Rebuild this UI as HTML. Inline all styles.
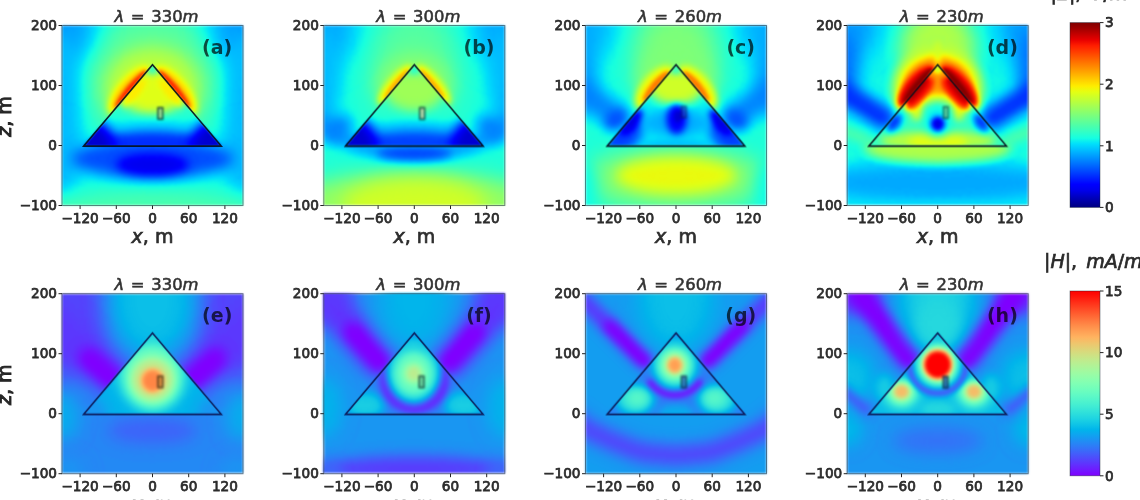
<!DOCTYPE html><html><head><meta charset="utf-8"><title>Figure</title><style>html,body{margin:0;padding:0;background:#fff}svg{display:block}text{font-family:"DejaVu Sans","Liberation Sans",sans-serif;fill:#1c1c1c}.tk{font-size:13.6px;fill:#2c2c2c;stroke:#2c2c2c;stroke-width:.75px}.tt{font-size:16.4px;word-spacing:1.5px;fill:#333;stroke:#333;stroke-width:.55px}.it{font-style:oblique}.xl{font-size:19px;fill:#2e2e2e;stroke:#2e2e2e;stroke-width:.7px}.yl{font-size:19px;fill:#262626;stroke:#262626;stroke-width:.9px}.pl{font-size:19px;font-weight:bold;fill:#000;opacity:.7}.ct{font-size:19px;word-spacing:3px;fill:#2a2a2a;stroke:#2a2a2a;stroke-width:.7px}.txt{filter:blur(.7px)}</style></head><body><svg width="1140" height="500" viewBox="0 0 1140 500"><defs><filter id="jet" color-interpolation-filters="sRGB" filterUnits="userSpaceOnUse" x="-150" y="-200" width="300" height="300"><feComponentTransfer><feFuncR type="table" tableValues="0 0 0 0 0 0 0 0 0 0 0 0 0.0854 0.187 0.288 0.389 0.49 0.591 0.693 0.794 0.895 0.996 1 1 1 1 1 1 1 0.91 0.767 0.625 0.5"/><feFuncG type="table" tableValues="0 0 0 0 0.00196 0.127 0.253 0.378 0.504 0.629 0.755 0.88 1 1 1 1 1 1 1 1 1 0.93 0.814 0.698 0.582 0.466 0.349 0.233 0.117 0.000726 0 0 0"/><feFuncB type="table" tableValues="0.5 0.643 0.785 0.928 1 1 1 1 1 1 1 0.984 0.882 0.781 0.68 0.579 0.478 0.376 0.275 0.174 0.0727 0 0 0 0 0 0 0 0 0 0 0 0"/></feComponentTransfer></filter><filter id="rainbow" color-interpolation-filters="sRGB" filterUnits="userSpaceOnUse" x="-150" y="-200" width="300" height="300"><feComponentTransfer><feFuncR type="table" tableValues="0.5 0.437 0.375 0.312 0.249 0.186 0.124 0.0608 0.00196 0.0647 0.127 0.19 0.253 0.316 0.378 0.441 0.504 0.567 0.629 0.692 0.755 0.818 0.88 0.943 1 1 1 1 1 1 1 1 1"/><feFuncG type="table" tableValues="0 0.0984 0.196 0.291 0.384 0.473 0.557 0.636 0.709 0.775 0.834 0.884 0.926 0.958 0.982 0.996 1 0.995 0.979 0.955 0.921 0.878 0.827 0.767 0.701 0.627 0.547 0.462 0.373 0.28 0.184 0.0861 1.22e-16"/><feFuncB type="table" tableValues="1 0.999 0.995 0.989 0.981 0.97 0.957 0.941 0.923 0.903 0.881 0.857 0.83 0.802 0.771 0.739 0.705 0.669 0.632 0.593 0.552 0.511 0.468 0.424 0.378 0.332 0.285 0.238 0.19 0.141 0.0923 0.0431 6.12e-17"/></feComponentTransfer></filter><filter id="b1_0" color-interpolation-filters="sRGB" x="-150%" y="-150%" width="400%" height="400%"><feGaussianBlur stdDeviation="1"/></filter><filter id="b2_5" color-interpolation-filters="sRGB" x="-150%" y="-150%" width="400%" height="400%"><feGaussianBlur stdDeviation="2.5"/></filter><filter id="b3_0" color-interpolation-filters="sRGB" x="-150%" y="-150%" width="400%" height="400%"><feGaussianBlur stdDeviation="3"/></filter><filter id="b3_5" color-interpolation-filters="sRGB" x="-150%" y="-150%" width="400%" height="400%"><feGaussianBlur stdDeviation="3.5"/></filter><filter id="b4_0" color-interpolation-filters="sRGB" x="-150%" y="-150%" width="400%" height="400%"><feGaussianBlur stdDeviation="4"/></filter><filter id="b5_0" color-interpolation-filters="sRGB" x="-150%" y="-150%" width="400%" height="400%"><feGaussianBlur stdDeviation="5"/></filter><filter id="b6_0" color-interpolation-filters="sRGB" x="-150%" y="-150%" width="400%" height="400%"><feGaussianBlur stdDeviation="6"/></filter><filter id="b7_0" color-interpolation-filters="sRGB" x="-150%" y="-150%" width="400%" height="400%"><feGaussianBlur stdDeviation="7"/></filter><filter id="b8_0" color-interpolation-filters="sRGB" x="-150%" y="-150%" width="400%" height="400%"><feGaussianBlur stdDeviation="8"/></filter><filter id="b9_0" color-interpolation-filters="sRGB" x="-150%" y="-150%" width="400%" height="400%"><feGaussianBlur stdDeviation="9"/></filter><filter id="b10_0" color-interpolation-filters="sRGB" x="-150%" y="-150%" width="400%" height="400%"><feGaussianBlur stdDeviation="10"/></filter><filter id="b11_0" color-interpolation-filters="sRGB" x="-150%" y="-150%" width="400%" height="400%"><feGaussianBlur stdDeviation="11"/></filter><filter id="b12_0" color-interpolation-filters="sRGB" x="-150%" y="-150%" width="400%" height="400%"><feGaussianBlur stdDeviation="12"/></filter><filter id="b13_0" color-interpolation-filters="sRGB" x="-150%" y="-150%" width="400%" height="400%"><feGaussianBlur stdDeviation="13"/></filter><filter id="b14_0" color-interpolation-filters="sRGB" x="-150%" y="-150%" width="400%" height="400%"><feGaussianBlur stdDeviation="14"/></filter><filter id="b15_0" color-interpolation-filters="sRGB" x="-150%" y="-150%" width="400%" height="400%"><feGaussianBlur stdDeviation="15"/></filter><filter id="b16_0" color-interpolation-filters="sRGB" x="-150%" y="-150%" width="400%" height="400%"><feGaussianBlur stdDeviation="16"/></filter><filter id="b18_0" color-interpolation-filters="sRGB" x="-150%" y="-150%" width="400%" height="400%"><feGaussianBlur stdDeviation="18"/></filter><filter id="b20_0" color-interpolation-filters="sRGB" x="-150%" y="-150%" width="400%" height="400%"><feGaussianBlur stdDeviation="20"/></filter><filter id="b22_0" color-interpolation-filters="sRGB" x="-150%" y="-150%" width="400%" height="400%"><feGaussianBlur stdDeviation="22"/></filter><filter id="soft" color-interpolation-filters="sRGB" filterUnits="userSpaceOnUse" x="0" y="0" width="1140" height="500"><feGaussianBlur stdDeviation=".8"/></filter><filter id="soft2" color-interpolation-filters="sRGB" filterUnits="userSpaceOnUse" x="0" y="0" width="1140" height="500"><feGaussianBlur stdDeviation=".55"/></filter><clipPath id="tin"><polygon points="-114,1 0,-134.5 114,1"/></clipPath><clipPath id="tout"><path clip-rule="evenodd" d="M-200,-250H200V150H-200Z M-114,1 L0,-134.5 L114,1Z"/></clipPath><linearGradient id="cbjet" x1="0" y1="0" x2="0" y2="1"><stop offset="0" stop-color="#800000"/><stop offset="0.03125" stop-color="#9f0000"/><stop offset="0.0625" stop-color="#c40000"/><stop offset="0.09375" stop-color="#e80000"/><stop offset="0.125" stop-color="#ff1e00"/><stop offset="0.1562" stop-color="#ff3b00"/><stop offset="0.1875" stop-color="#ff5900"/><stop offset="0.2188" stop-color="#ff7700"/><stop offset="0.25" stop-color="#ff9400"/><stop offset="0.2812" stop-color="#ffb200"/><stop offset="0.3125" stop-color="#ffd000"/><stop offset="0.3438" stop-color="#feed00"/><stop offset="0.375" stop-color="#e4ff13"/><stop offset="0.4062" stop-color="#caff2c"/><stop offset="0.4375" stop-color="#b1ff46"/><stop offset="0.4688" stop-color="#97ff60"/><stop offset="0.5" stop-color="#7dff7a"/><stop offset="0.5312" stop-color="#63ff94"/><stop offset="0.5625" stop-color="#49ffad"/><stop offset="0.5938" stop-color="#30ffc7"/><stop offset="0.625" stop-color="#16ffe1"/><stop offset="0.6562" stop-color="#00e0fb"/><stop offset="0.6875" stop-color="#00c0ff"/><stop offset="0.7188" stop-color="#00a0ff"/><stop offset="0.75" stop-color="#0080ff"/><stop offset="0.7812" stop-color="#0060ff"/><stop offset="0.8125" stop-color="#0040ff"/><stop offset="0.8438" stop-color="#0020ff"/><stop offset="0.875" stop-color="#0000ff"/><stop offset="0.9062" stop-color="#0000ed"/><stop offset="0.9375" stop-color="#0000c8"/><stop offset="0.9688" stop-color="#0000a4"/><stop offset="1" stop-color="#000080"/></linearGradient><linearGradient id="cbrainbow" x1="0" y1="0" x2="0" y2="1"><stop offset="0" stop-color="#ff0000"/><stop offset="0.03125" stop-color="#ff160b"/><stop offset="0.0625" stop-color="#ff2f18"/><stop offset="0.09375" stop-color="#ff4724"/><stop offset="0.125" stop-color="#ff5f30"/><stop offset="0.1562" stop-color="#ff763d"/><stop offset="0.1875" stop-color="#ff8c49"/><stop offset="0.2188" stop-color="#ffa055"/><stop offset="0.25" stop-color="#ffb360"/><stop offset="0.2812" stop-color="#f0c46c"/><stop offset="0.3125" stop-color="#e0d377"/><stop offset="0.3438" stop-color="#d0e082"/><stop offset="0.375" stop-color="#c0eb8d"/><stop offset="0.4062" stop-color="#b0f397"/><stop offset="0.4375" stop-color="#a0faa1"/><stop offset="0.4688" stop-color="#90feab"/><stop offset="0.5" stop-color="#80ffb4"/><stop offset="0.5312" stop-color="#70febc"/><stop offset="0.5625" stop-color="#60fac5"/><stop offset="0.5938" stop-color="#50f4cc"/><stop offset="0.625" stop-color="#40ecd4"/><stop offset="0.6562" stop-color="#30e1da"/><stop offset="0.6875" stop-color="#20d5e1"/><stop offset="0.7188" stop-color="#10c6e6"/><stop offset="0.75" stop-color="#00b5eb"/><stop offset="0.7812" stop-color="#10a2f0"/><stop offset="0.8125" stop-color="#208ef4"/><stop offset="0.8438" stop-color="#3079f7"/><stop offset="0.875" stop-color="#4062fa"/><stop offset="0.9062" stop-color="#504afc"/><stop offset="0.9375" stop-color="#6032fe"/><stop offset="0.9688" stop-color="#7019ff"/><stop offset="1" stop-color="#8000ff"/></linearGradient></defs><rect width="1140" height="500" fill="#fff"/><g filter="url(#soft)"><svg x="62" y="25.5" width="181" height="180" viewBox="-150 -200 300 300" preserveAspectRatio="none"><g filter="url(#jet)"><rect x="-150" y="-200" width="300" height="300" fill="#616161"/><ellipse cx="0" cy="-110" rx="115" ry="105" fill="#787878" filter="url(#b22_0)"/><ellipse cx="0" cy="-98" rx="78" ry="66" fill="#919191" filter="url(#b12_0)"/><ellipse cx="-155" cy="-200" rx="60" ry="70" fill="#474747" filter="url(#b22_0)"/><ellipse cx="155" cy="-200" rx="60" ry="70" fill="#474747" filter="url(#b22_0)"/><ellipse cx="-155" cy="-80" rx="36" ry="110" fill="#4f4f4f" filter="url(#b14_0)"/><ellipse cx="155" cy="-80" rx="36" ry="110" fill="#4f4f4f" filter="url(#b14_0)"/><ellipse cx="-155" cy="20" rx="40" ry="60" fill="#4f4f4f" filter="url(#b14_0)"/><ellipse cx="155" cy="20" rx="40" ry="60" fill="#4f4f4f" filter="url(#b14_0)"/><g clip-path="url(#tout)"><ellipse cx="-38" cy="-92" rx="50" ry="19" fill="#b2b2b2" transform="rotate(-49.9 -38 -92)" filter="url(#b6_0)"/></g><g clip-path="url(#tout)"><ellipse cx="38" cy="-92" rx="50" ry="19" fill="#b2b2b2" transform="rotate(49.9 38 -92)" filter="url(#b6_0)"/></g><g clip-path="url(#tout)"><ellipse cx="-35" cy="-94" rx="40" ry="8" fill="#dedede" transform="rotate(-49.9 -35 -94)" filter="url(#b3_0)"/></g><g clip-path="url(#tout)"><ellipse cx="35" cy="-94" rx="40" ry="8" fill="#dedede" transform="rotate(49.9 35 -94)" filter="url(#b3_0)"/></g><ellipse cx="0" cy="120" rx="190" ry="45" fill="#707070" filter="url(#b15_0)"/><ellipse cx="0" cy="22" rx="135" ry="34" fill="#333333" filter="url(#b11_0)"/><ellipse cx="0" cy="32" rx="60" ry="18" fill="#1a1a1a" filter="url(#b8_0)"/><g clip-path="url(#tin)"><polygon points="-116,2 0,-137 116,2" fill="#666666"/></g><g clip-path="url(#tin)"><ellipse cx="0" cy="-90" rx="55" ry="38" fill="#9e9e9e" filter="url(#b9_0)"/></g><g clip-path="url(#tin)"><ellipse cx="0" cy="-32" rx="80" ry="12" fill="#575757" filter="url(#b8_0)"/></g><g clip-path="url(#tin)"><ellipse cx="-30" cy="-88" rx="8" ry="30" fill="#a8a8a8" transform="rotate(40 -30 -88)" filter="url(#b4_0)"/></g><g clip-path="url(#tin)"><ellipse cx="30" cy="-88" rx="8" ry="30" fill="#a8a8a8" transform="rotate(-40 30 -88)" filter="url(#b4_0)"/></g><g clip-path="url(#tin)"><ellipse cx="0" cy="-128" rx="8" ry="10" fill="#6b6b6b" filter="url(#b4_0)"/></g><g clip-path="url(#tin)"><ellipse cx="0" cy="2" rx="120" ry="27" fill="#2b2b2b" filter="url(#b8_0)"/></g><g clip-path="url(#tin)"><ellipse cx="-100" cy="0" rx="36" ry="44" fill="#121212" filter="url(#b10_0)"/></g><g clip-path="url(#tin)"><ellipse cx="100" cy="0" rx="36" ry="44" fill="#121212" filter="url(#b10_0)"/></g></g><rect x="9.25" y="-63" width="7.5" height="19" fill="#b0e8a0" stroke="#0a3030" stroke-width="2.8" opacity="0.85" filter="url(#b1_0)"/></svg><svg x="323.8" y="25.5" width="181" height="180" viewBox="-150 -200 300 300" preserveAspectRatio="none"><g filter="url(#jet)"><rect x="-150" y="-200" width="300" height="300" fill="#636363"/><ellipse cx="0" cy="-125" rx="75" ry="95" fill="#757575" filter="url(#b22_0)"/><ellipse cx="0" cy="-100" rx="62" ry="55" fill="#828282" filter="url(#b12_0)"/><ellipse cx="-155" cy="-200" rx="60" ry="70" fill="#4a4a4a" filter="url(#b22_0)"/><ellipse cx="155" cy="-200" rx="60" ry="70" fill="#4a4a4a" filter="url(#b22_0)"/><ellipse cx="-155" cy="-110" rx="34" ry="90" fill="#4f4f4f" filter="url(#b13_0)"/><ellipse cx="155" cy="-110" rx="34" ry="90" fill="#4f4f4f" filter="url(#b13_0)"/><g clip-path="url(#tout)"><polyline points="-180.3,-85.4 -174.3,-65.4 -162.3,-46.3 -144.8,-29 -122.3,-13.9 -95.6,-1.6 -65.6,7.5 -33.4,13.1 -0,15 33.4,13.1 65.6,7.5 95.6,-1.6 122.3,-13.9 144.8,-29 162.3,-46.3 174.3,-65.4 180.3,-85.4" fill="none" stroke="#474747" stroke-width="26" stroke-linecap="round" stroke-linejoin="round" filter="url(#b10_0)"/></g><g clip-path="url(#tout)"><ellipse cx="-128" cy="-28" rx="28" ry="20" fill="#404040" transform="rotate(-40 -128 -28)" filter="url(#b11_0)"/></g><g clip-path="url(#tout)"><ellipse cx="128" cy="-28" rx="28" ry="20" fill="#404040" transform="rotate(40 128 -28)" filter="url(#b11_0)"/></g><g clip-path="url(#tout)"><ellipse cx="-32" cy="-102" rx="42" ry="13" fill="#a1a1a1" transform="rotate(-49.9 -32 -102)" filter="url(#b4_0)"/></g><g clip-path="url(#tout)"><ellipse cx="32" cy="-102" rx="42" ry="13" fill="#a1a1a1" transform="rotate(49.9 32 -102)" filter="url(#b4_0)"/></g><g clip-path="url(#tout)"><ellipse cx="-29" cy="-103" rx="32" ry="6" fill="#bababa" transform="rotate(-49.9 -29 -103)" filter="url(#b2_5)"/></g><g clip-path="url(#tout)"><ellipse cx="29" cy="-103" rx="32" ry="6" fill="#bababa" transform="rotate(49.9 29 -103)" filter="url(#b2_5)"/></g><ellipse cx="0" cy="118" rx="230" ry="76" fill="#878787" filter="url(#b16_0)"/><ellipse cx="0" cy="100" rx="120" ry="45" fill="#999999" filter="url(#b14_0)"/><ellipse cx="0" cy="13" rx="62" ry="11" fill="#303030" filter="url(#b7_0)"/><g clip-path="url(#tin)"><polygon points="-116,2 0,-137 116,2" fill="#666666"/></g><g clip-path="url(#tin)"><ellipse cx="0" cy="-92" rx="50" ry="34" fill="#8a8a8a" filter="url(#b9_0)"/></g><g clip-path="url(#tin)"><ellipse cx="0" cy="-30" rx="80" ry="12" fill="#545454" filter="url(#b8_0)"/></g><g clip-path="url(#tin)"><ellipse cx="0" cy="-128" rx="8" ry="10" fill="#666666" filter="url(#b4_0)"/></g><g clip-path="url(#tin)"><ellipse cx="0" cy="2" rx="120" ry="27" fill="#303030" filter="url(#b8_0)"/></g><g clip-path="url(#tin)"><ellipse cx="-100" cy="-2" rx="38" ry="46" fill="#121212" filter="url(#b10_0)"/></g><g clip-path="url(#tin)"><ellipse cx="100" cy="-2" rx="38" ry="46" fill="#121212" filter="url(#b10_0)"/></g></g><rect x="9.25" y="-63" width="7.5" height="19" fill="#e8f0c0" stroke="#0a3030" stroke-width="2.8" opacity="0.85" filter="url(#b1_0)"/></svg><svg x="585.5" y="25.5" width="181" height="180" viewBox="-150 -200 300 300" preserveAspectRatio="none"><g filter="url(#jet)"><rect x="-150" y="-200" width="300" height="300" fill="#636363"/><ellipse cx="0" cy="-150" rx="70" ry="80" fill="#808080" filter="url(#b20_0)"/><ellipse cx="0" cy="-105" rx="66" ry="60" fill="#808080" filter="url(#b12_0)"/><ellipse cx="-155" cy="-200" rx="55" ry="60" fill="#4c4c4c" filter="url(#b20_0)"/><ellipse cx="155" cy="-200" rx="55" ry="60" fill="#4c4c4c" filter="url(#b20_0)"/><ellipse cx="-158" cy="-120" rx="30" ry="70" fill="#4a4a4a" filter="url(#b12_0)"/><ellipse cx="158" cy="-120" rx="30" ry="70" fill="#4a4a4a" filter="url(#b12_0)"/><g clip-path="url(#tout)"><polyline points="-98,-48 -175,-104" fill="none" stroke="#404040" stroke-width="42" stroke-linecap="round" stroke-linejoin="round" filter="url(#b12_0)"/></g><g clip-path="url(#tout)"><polyline points="98,-48 175,-104" fill="none" stroke="#404040" stroke-width="42" stroke-linecap="round" stroke-linejoin="round" filter="url(#b12_0)"/></g><g clip-path="url(#tout)"><ellipse cx="-100" cy="-44" rx="20" ry="14" fill="#333333" transform="rotate(-35 -100 -44)" filter="url(#b8_0)"/></g><g clip-path="url(#tout)"><ellipse cx="100" cy="-44" rx="20" ry="14" fill="#333333" transform="rotate(35 100 -44)" filter="url(#b8_0)"/></g><g clip-path="url(#tout)"><ellipse cx="-36" cy="-97" rx="44" ry="20" fill="#a6a6a6" transform="rotate(-49.9 -36 -97)" filter="url(#b5_0)"/></g><g clip-path="url(#tout)"><ellipse cx="36" cy="-97" rx="44" ry="20" fill="#a6a6a6" transform="rotate(49.9 36 -97)" filter="url(#b5_0)"/></g><g clip-path="url(#tout)"><ellipse cx="-32" cy="-98" rx="33" ry="10" fill="#c7c7c7" transform="rotate(-49.9 -32 -98)" filter="url(#b3_0)"/></g><g clip-path="url(#tout)"><ellipse cx="32" cy="-98" rx="33" ry="10" fill="#c7c7c7" transform="rotate(49.9 32 -98)" filter="url(#b3_0)"/></g><ellipse cx="0" cy="55" rx="160" ry="52" fill="#808080" filter="url(#b16_0)"/><ellipse cx="0" cy="50" rx="100" ry="31" fill="#a1a1a1" filter="url(#b11_0)"/><ellipse cx="-158" cy="70" rx="28" ry="50" fill="#5e5e5e" filter="url(#b12_0)"/><ellipse cx="158" cy="70" rx="28" ry="50" fill="#5e5e5e" filter="url(#b12_0)"/><g clip-path="url(#tin)"><polygon points="-116,2 0,-137 116,2" fill="#5c5c5c"/></g><g clip-path="url(#tin)"><ellipse cx="0" cy="-98" rx="46" ry="30" fill="#999999" filter="url(#b8_0)"/></g><g clip-path="url(#tin)"><ellipse cx="0" cy="-128" rx="8" ry="10" fill="#6b6b6b" filter="url(#b4_0)"/></g><g clip-path="url(#tin)"><ellipse cx="-88" cy="-22" rx="30" ry="40" fill="#303030" transform="rotate(36 -88 -22)" filter="url(#b9_0)"/></g><g clip-path="url(#tin)"><ellipse cx="88" cy="-22" rx="30" ry="40" fill="#303030" transform="rotate(-36 88 -22)" filter="url(#b9_0)"/></g><g clip-path="url(#tin)"><ellipse cx="-74" cy="-38" rx="10" ry="26" fill="#141414" transform="rotate(40 -74 -38)" filter="url(#b5_0)"/></g><g clip-path="url(#tin)"><ellipse cx="74" cy="-38" rx="10" ry="26" fill="#141414" transform="rotate(-40 74 -38)" filter="url(#b5_0)"/></g><g clip-path="url(#tin)"><ellipse cx="0" cy="0" rx="60" ry="9" fill="#4f4f4f" filter="url(#b6_0)"/></g><g clip-path="url(#tin)"><ellipse cx="0" cy="-38" rx="56" ry="22" fill="#4c4c4c" filter="url(#b8_0)"/></g><g clip-path="url(#tin)"><ellipse cx="1" cy="-44" rx="17" ry="25" fill="#1f1f1f" filter="url(#b5_0)"/></g><g clip-path="url(#tin)"><ellipse cx="3" cy="-48" rx="7" ry="11" fill="#121212" filter="url(#b3_0)"/></g></g><rect x="9.25" y="-65.5" width="7.5" height="19" fill="#2050c0" stroke="#0a2040" stroke-width="2.8" opacity="0.55" filter="url(#b1_0)"/></svg><svg x="847.2" y="25.5" width="181" height="180" viewBox="-150 -200 300 300" preserveAspectRatio="none"><g filter="url(#jet)"><rect x="-150" y="-200" width="300" height="300" fill="#5e5e5e"/><ellipse cx="-155" cy="-200" rx="55" ry="60" fill="#474747" filter="url(#b18_0)"/><ellipse cx="155" cy="-200" rx="55" ry="60" fill="#474747" filter="url(#b18_0)"/><ellipse cx="-160" cy="-130" rx="30" ry="60" fill="#3d3d3d" filter="url(#b12_0)"/><ellipse cx="160" cy="-130" rx="30" ry="60" fill="#3d3d3d" filter="url(#b12_0)"/><ellipse cx="0" cy="62" rx="210" ry="32" fill="#4a4a4a" filter="url(#b12_0)"/><ellipse cx="0" cy="112" rx="210" ry="14" fill="#595959" filter="url(#b8_0)"/><ellipse cx="-150" cy="5" rx="30" ry="18" fill="#616161" filter="url(#b10_0)"/><ellipse cx="150" cy="5" rx="30" ry="18" fill="#616161" filter="url(#b10_0)"/><g clip-path="url(#tout)"><ellipse cx="0" cy="5" rx="122" ry="24" fill="#8f8f8f" filter="url(#b8_0)"/></g><g clip-path="url(#tout)"><polyline points="-90,-46 -175,-100" fill="none" stroke="#2b2b2b" stroke-width="36" stroke-linecap="round" stroke-linejoin="round" filter="url(#b10_0)"/></g><g clip-path="url(#tout)"><polyline points="90,-46 175,-100" fill="none" stroke="#2b2b2b" stroke-width="36" stroke-linecap="round" stroke-linejoin="round" filter="url(#b10_0)"/></g><g clip-path="url(#tout)"><polyline points="-118,-10 -170,-30" fill="none" stroke="#737373" stroke-width="18" stroke-linecap="round" stroke-linejoin="round" filter="url(#b8_0)"/></g><g clip-path="url(#tout)"><polyline points="118,-10 170,-30" fill="none" stroke="#737373" stroke-width="18" stroke-linecap="round" stroke-linejoin="round" filter="url(#b8_0)"/></g><g clip-path="url(#tout)"><ellipse cx="0" cy="-160" rx="62" ry="70" fill="#8f8f8f" filter="url(#b16_0)"/></g><g clip-path="url(#tout)"><ellipse cx="0" cy="-95" rx="76" ry="68" fill="#999999" filter="url(#b8_0)"/></g><g clip-path="url(#tout)"><ellipse cx="0" cy="-95" rx="60" ry="54" fill="#bfbfbf" filter="url(#b6_0)"/></g><g clip-path="url(#tout)"><ellipse cx="-36" cy="-98" rx="44" ry="18" fill="#ebebeb" transform="rotate(-49.9 -36 -98)" filter="url(#b4_0)"/></g><g clip-path="url(#tout)"><ellipse cx="36" cy="-98" rx="44" ry="18" fill="#ebebeb" transform="rotate(49.9 36 -98)" filter="url(#b4_0)"/></g><g clip-path="url(#tout)"><ellipse cx="-32" cy="-100" rx="38" ry="8" fill="#ffffff" transform="rotate(-49.9 -32 -100)" filter="url(#b3_0)"/></g><g clip-path="url(#tout)"><ellipse cx="32" cy="-100" rx="38" ry="8" fill="#ffffff" transform="rotate(49.9 32 -100)" filter="url(#b3_0)"/></g><g clip-path="url(#tout)"><ellipse cx="0" cy="-156" rx="5" ry="20" fill="#999999" filter="url(#b4_0)"/></g><g clip-path="url(#tin)"><polygon points="-116,2 0,-137 116,2" fill="#6b6b6b"/></g><g clip-path="url(#tin)"><ellipse cx="0" cy="-8" rx="95" ry="16" fill="#919191" filter="url(#b6_0)"/></g><g clip-path="url(#tin)"><ellipse cx="0" cy="-6" rx="50" ry="10" fill="#a1a1a1" filter="url(#b5_0)"/></g><g clip-path="url(#tin)"><ellipse cx="0" cy="-100" rx="52" ry="36" fill="#9e9e9e" filter="url(#b6_0)"/></g><g clip-path="url(#tin)"><ellipse cx="-34" cy="-62" rx="12" ry="20" fill="#9e9e9e" filter="url(#b5_0)"/></g><g clip-path="url(#tin)"><ellipse cx="34" cy="-62" rx="12" ry="20" fill="#9e9e9e" filter="url(#b5_0)"/></g><g clip-path="url(#tin)"><ellipse cx="0" cy="-108" rx="36" ry="24" fill="#bdbdbd" filter="url(#b5_0)"/></g><g clip-path="url(#tin)"><ellipse cx="-30" cy="-86" rx="12" ry="34" fill="#e6e6e6" transform="rotate(40 -30 -86)" filter="url(#b4_0)"/></g><g clip-path="url(#tin)"><ellipse cx="30" cy="-86" rx="12" ry="34" fill="#e6e6e6" transform="rotate(-40 30 -86)" filter="url(#b4_0)"/></g><g clip-path="url(#tin)"><ellipse cx="-34" cy="-92" rx="5" ry="30" fill="#f7f7f7" transform="rotate(40 -34 -92)" filter="url(#b2_5)"/></g><g clip-path="url(#tin)"><ellipse cx="34" cy="-92" rx="5" ry="30" fill="#f7f7f7" transform="rotate(-40 34 -92)" filter="url(#b2_5)"/></g><g clip-path="url(#tin)"><ellipse cx="0" cy="-128" rx="7" ry="8" fill="#999999" filter="url(#b3_0)"/></g><g clip-path="url(#tin)"><ellipse cx="0" cy="-44" rx="24" ry="30" fill="#5e5e5e" filter="url(#b7_0)"/></g><g clip-path="url(#tin)"><ellipse cx="-72" cy="-38" rx="10" ry="18" fill="#2b2b2b" transform="rotate(36 -72 -38)" filter="url(#b5_0)"/></g><g clip-path="url(#tin)"><ellipse cx="72" cy="-38" rx="10" ry="18" fill="#2b2b2b" transform="rotate(-36 72 -38)" filter="url(#b5_0)"/></g><g clip-path="url(#tin)"><ellipse cx="0" cy="-36" rx="11" ry="12" fill="#141414" filter="url(#b4_0)"/></g></g><rect x="9.65" y="-64.5" width="7.5" height="19" fill="#80c890" stroke="#0a4030" stroke-width="2.8" opacity="0.7" filter="url(#b1_0)"/></svg><svg x="62" y="293.7" width="181" height="180" viewBox="-150 -200 300 300" preserveAspectRatio="none"><g filter="url(#rainbow)"><rect x="-150" y="-200" width="300" height="300" fill="#2e2e2e"/><ellipse cx="-150" cy="-175" rx="80" ry="115" fill="#171717" filter="url(#b22_0)"/><ellipse cx="150" cy="-175" rx="80" ry="115" fill="#171717" filter="url(#b22_0)"/><ellipse cx="0" cy="-190" rx="72" ry="95" fill="#454545" filter="url(#b20_0)"/><g clip-path="url(#tout)"><polyline points="-66,-62 -175,-158" fill="none" stroke="#121212" stroke-width="60" stroke-linecap="round" stroke-linejoin="round" filter="url(#b16_0)"/></g><g clip-path="url(#tout)"><polyline points="66,-62 175,-158" fill="none" stroke="#121212" stroke-width="60" stroke-linecap="round" stroke-linejoin="round" filter="url(#b16_0)"/></g><g clip-path="url(#tout)"><polyline points="-66,-58 -104,-92" fill="none" stroke="#000000" stroke-width="38" stroke-linecap="round" stroke-linejoin="round" filter="url(#b10_0)"/></g><g clip-path="url(#tout)"><polyline points="66,-58 104,-92" fill="none" stroke="#000000" stroke-width="38" stroke-linecap="round" stroke-linejoin="round" filter="url(#b10_0)"/></g><ellipse cx="-150" cy="5" rx="28" ry="40" fill="#3d3d3d" filter="url(#b14_0)"/><ellipse cx="150" cy="5" rx="28" ry="40" fill="#3d3d3d" filter="url(#b14_0)"/><ellipse cx="0" cy="28" rx="75" ry="22" fill="#212121" filter="url(#b12_0)"/><ellipse cx="-150" cy="100" rx="40" ry="30" fill="#333333" filter="url(#b14_0)"/><ellipse cx="150" cy="100" rx="40" ry="30" fill="#333333" filter="url(#b14_0)"/><g clip-path="url(#tin)"><polygon points="-116,2 0,-137 116,2" fill="#404040"/></g><g clip-path="url(#tin)"><ellipse cx="-105" cy="0" rx="30" ry="30" fill="#333333" filter="url(#b10_0)"/></g><g clip-path="url(#tin)"><ellipse cx="105" cy="0" rx="30" ry="30" fill="#333333" filter="url(#b10_0)"/></g><g clip-path="url(#tin)"><ellipse cx="0" cy="-72" rx="62" ry="72" fill="#545454" filter="url(#b10_0)"/></g><g clip-path="url(#tin)"><ellipse cx="0" cy="-61" rx="48" ry="52" fill="#787878" filter="url(#b7_0)"/></g><g clip-path="url(#tin)"><ellipse cx="0" cy="-57" rx="35" ry="36" fill="#a1a1a1" filter="url(#b6_0)"/></g><g clip-path="url(#tin)"><ellipse cx="0" cy="-55" rx="19" ry="20" fill="#d1d1d1" filter="url(#b4_0)"/></g></g><rect x="9.25" y="-62.5" width="7.5" height="19" fill="#e09040" stroke="#2a2a10" stroke-width="2.8" opacity="0.8" filter="url(#b1_0)"/></svg><svg x="323.8" y="293.7" width="181" height="180" viewBox="-150 -200 300 300" preserveAspectRatio="none"><g filter="url(#rainbow)"><rect x="-150" y="-200" width="300" height="300" fill="#333333"/><ellipse cx="-150" cy="-10" rx="30" ry="50" fill="#404040" filter="url(#b14_0)"/><ellipse cx="150" cy="-10" rx="30" ry="50" fill="#404040" filter="url(#b14_0)"/><ellipse cx="0" cy="92" rx="150" ry="22" fill="#141414" filter="url(#b11_0)"/><ellipse cx="-150" cy="98" rx="30" ry="20" fill="#212121" filter="url(#b10_0)"/><ellipse cx="150" cy="98" rx="30" ry="20" fill="#212121" filter="url(#b10_0)"/><ellipse cx="-150" cy="-200" rx="50" ry="50" fill="#1a1a1a" filter="url(#b14_0)"/><ellipse cx="150" cy="-200" rx="50" ry="50" fill="#1a1a1a" filter="url(#b14_0)"/><g clip-path="url(#tout)"><polyline points="-58,-88 -155,-200" fill="none" stroke="#121212" stroke-width="56" stroke-linecap="round" stroke-linejoin="round" filter="url(#b14_0)"/></g><g clip-path="url(#tout)"><polyline points="58,-88 155,-200" fill="none" stroke="#121212" stroke-width="56" stroke-linecap="round" stroke-linejoin="round" filter="url(#b14_0)"/></g><g clip-path="url(#tout)"><polyline points="-58,-86 -102,-136" fill="none" stroke="#000000" stroke-width="34" stroke-linecap="round" stroke-linejoin="round" filter="url(#b9_0)"/></g><g clip-path="url(#tout)"><polyline points="58,-86 102,-136" fill="none" stroke="#000000" stroke-width="34" stroke-linecap="round" stroke-linejoin="round" filter="url(#b9_0)"/></g><g clip-path="url(#tout)"><ellipse cx="0" cy="-190" rx="60" ry="80" fill="#404040" filter="url(#b18_0)"/></g><g clip-path="url(#tin)"><polygon points="-116,2 0,-137 116,2" fill="#2e2e2e"/></g><g clip-path="url(#tin)"><ellipse cx="-82" cy="-14" rx="32" ry="22" fill="#4c4c4c" filter="url(#b7_0)"/></g><g clip-path="url(#tin)"><ellipse cx="82" cy="-14" rx="32" ry="22" fill="#4c4c4c" filter="url(#b7_0)"/></g><g clip-path="url(#tin)"><ellipse cx="0" cy="-58" rx="58" ry="58" fill="#0a0a0a" filter="url(#b6_0)"/></g><g clip-path="url(#tin)"><ellipse cx="-1" cy="-72" rx="46" ry="56" fill="#4f4f4f" filter="url(#b6_0)"/></g><g clip-path="url(#tin)"><ellipse cx="-1" cy="-67" rx="32" ry="36" fill="#757575" filter="url(#b6_0)"/></g><g clip-path="url(#tin)"><ellipse cx="-1" cy="-67" rx="15" ry="16" fill="#9e9e9e" filter="url(#b5_0)"/></g></g><rect x="8.25" y="-62.5" width="7.5" height="19" fill="#70d8a0" stroke="#0a3030" stroke-width="2.8" opacity="0.8" filter="url(#b1_0)"/></svg><svg x="585.5" y="293.7" width="181" height="180" viewBox="-150 -200 300 300" preserveAspectRatio="none"><g filter="url(#rainbow)"><rect x="-150" y="-200" width="300" height="300" fill="#363636"/><g clip-path="url(#tout)"><polyline points="-170,8 -150,25 -105,46 -60,64 0,70 60,64 105,46 150,25 170,8" fill="none" stroke="#131313" stroke-width="32" stroke-linecap="round" stroke-linejoin="round" filter="url(#b12_0)"/></g><g clip-path="url(#tout)"><polyline points="-52,-88 -165,-200" fill="none" stroke="#121212" stroke-width="28" stroke-linecap="round" stroke-linejoin="round" filter="url(#b9_0)"/></g><g clip-path="url(#tout)"><polyline points="52,-88 165,-200" fill="none" stroke="#121212" stroke-width="28" stroke-linecap="round" stroke-linejoin="round" filter="url(#b9_0)"/></g><g clip-path="url(#tout)"><polyline points="-52,-88 -110,-146" fill="none" stroke="#000000" stroke-width="21" stroke-linecap="round" stroke-linejoin="round" filter="url(#b7_0)"/></g><g clip-path="url(#tout)"><polyline points="52,-88 110,-146" fill="none" stroke="#000000" stroke-width="21" stroke-linecap="round" stroke-linejoin="round" filter="url(#b7_0)"/></g><g clip-path="url(#tout)"><ellipse cx="0" cy="-190" rx="60" ry="80" fill="#454545" filter="url(#b18_0)"/></g><g clip-path="url(#tin)"><polygon points="-116,2 0,-137 116,2" fill="#2b2b2b"/></g><g clip-path="url(#tin)"><ellipse cx="0" cy="-2" rx="30" ry="12" fill="#3d3d3d" filter="url(#b6_0)"/></g><g clip-path="url(#tin)"><ellipse cx="-68" cy="-24" rx="31" ry="24" fill="#5c5c5c" filter="url(#b8_0)"/></g><g clip-path="url(#tin)"><ellipse cx="68" cy="-24" rx="31" ry="24" fill="#5c5c5c" filter="url(#b8_0)"/></g><g clip-path="url(#tin)"><ellipse cx="-64" cy="-26" rx="16" ry="13" fill="#6b6b6b" filter="url(#b6_0)"/></g><g clip-path="url(#tin)"><ellipse cx="64" cy="-26" rx="16" ry="13" fill="#6b6b6b" filter="url(#b6_0)"/></g><g clip-path="url(#tin)"><ellipse cx="-2" cy="-84" rx="40" ry="44" fill="#4c4c4c" filter="url(#b6_0)"/></g><g clip-path="url(#tin)"><polyline points="-43,-52.3 -39.2,-47.6 -35,-43.4 -30.2,-39.7 -25.1,-36.6 -19.6,-34.2 -13.9,-32.4 -8,-31.4 -2,-31 4,-31.4 9.9,-32.4 15.6,-34.2 21.1,-36.6 26.2,-39.7 31,-43.4 35.2,-47.6 39,-52.3" fill="none" stroke="#050505" stroke-width="11" stroke-linecap="round" stroke-linejoin="round" filter="url(#b4_0)"/></g><g clip-path="url(#tin)"><ellipse cx="-2" cy="-81" rx="28" ry="29" fill="#7a7a7a" filter="url(#b5_0)"/></g><g clip-path="url(#tin)"><ellipse cx="-2" cy="-81" rx="17" ry="18" fill="#9e9e9e" filter="url(#b4_0)"/></g><g clip-path="url(#tin)"><ellipse cx="-2" cy="-81" rx="12" ry="13" fill="#c7c7c7" filter="url(#b3_5)"/></g></g><rect x="9.25" y="-62.5" width="7.5" height="19" fill="#3a78c8" stroke="#0a2040" stroke-width="2.8" opacity="0.8" filter="url(#b1_0)"/></svg><svg x="847.2" y="293.7" width="181" height="180" viewBox="-150 -200 300 300" preserveAspectRatio="none"><g filter="url(#rainbow)"><rect x="-150" y="-200" width="300" height="300" fill="#333333"/><ellipse cx="0" cy="45" rx="75" ry="22" fill="#262626" filter="url(#b12_0)"/><ellipse cx="-150" cy="25" rx="25" ry="30" fill="#424242" filter="url(#b12_0)"/><ellipse cx="150" cy="25" rx="25" ry="30" fill="#424242" filter="url(#b12_0)"/><g clip-path="url(#tout)"><ellipse cx="-150" cy="-60" rx="45" ry="45" fill="#454545" filter="url(#b14_0)"/></g><g clip-path="url(#tout)"><ellipse cx="150" cy="-60" rx="45" ry="45" fill="#454545" filter="url(#b14_0)"/></g><g clip-path="url(#tout)"><ellipse cx="-88" cy="-42" rx="16" ry="24" fill="#4c4c4c" filter="url(#b8_0)"/></g><g clip-path="url(#tout)"><ellipse cx="88" cy="-42" rx="16" ry="24" fill="#4c4c4c" filter="url(#b8_0)"/></g><g clip-path="url(#tout)"><polyline points="-118,-6 -158,-40" fill="none" stroke="#1a1a1a" stroke-width="16" stroke-linecap="round" stroke-linejoin="round" filter="url(#b7_0)"/></g><g clip-path="url(#tout)"><polyline points="118,-6 158,-40" fill="none" stroke="#1a1a1a" stroke-width="16" stroke-linecap="round" stroke-linejoin="round" filter="url(#b7_0)"/></g><g clip-path="url(#tout)"><ellipse cx="-140" cy="-205" rx="45" ry="40" fill="#0f0f0f" filter="url(#b14_0)"/></g><g clip-path="url(#tout)"><ellipse cx="140" cy="-205" rx="45" ry="40" fill="#0f0f0f" filter="url(#b14_0)"/></g><g clip-path="url(#tout)"><polyline points="-48,-92 -128,-198" fill="none" stroke="#000000" stroke-width="40" stroke-linecap="round" stroke-linejoin="round" filter="url(#b9_0)"/></g><g clip-path="url(#tout)"><polyline points="48,-92 128,-198" fill="none" stroke="#000000" stroke-width="40" stroke-linecap="round" stroke-linejoin="round" filter="url(#b9_0)"/></g><g clip-path="url(#tout)"><ellipse cx="0" cy="-190" rx="58" ry="85" fill="#4f4f4f" filter="url(#b18_0)"/></g><g clip-path="url(#tout)"><ellipse cx="0" cy="-150" rx="34" ry="40" fill="#525252" filter="url(#b10_0)"/></g><g clip-path="url(#tin)"><polygon points="-116,2 0,-137 116,2" fill="#454545"/></g><g clip-path="url(#tin)"><ellipse cx="0" cy="-8" rx="30" ry="12" fill="#525252" filter="url(#b6_0)"/></g><g clip-path="url(#tin)"><ellipse cx="-60" cy="-32" rx="32" ry="26" fill="#5e5e5e" filter="url(#b7_0)"/></g><g clip-path="url(#tin)"><ellipse cx="60" cy="-32" rx="32" ry="26" fill="#5e5e5e" filter="url(#b7_0)"/></g><g clip-path="url(#tin)"><ellipse cx="-60" cy="-36" rx="21" ry="19" fill="#8c8c8c" filter="url(#b5_0)"/></g><g clip-path="url(#tin)"><ellipse cx="60" cy="-36" rx="21" ry="19" fill="#8c8c8c" filter="url(#b5_0)"/></g><g clip-path="url(#tin)"><ellipse cx="-60" cy="-37" rx="13" ry="12" fill="#bababa" filter="url(#b3_5)"/></g><g clip-path="url(#tin)"><ellipse cx="60" cy="-37" rx="13" ry="12" fill="#bababa" filter="url(#b3_5)"/></g><g clip-path="url(#tin)"><ellipse cx="0" cy="-84" rx="40" ry="43" fill="#525252" filter="url(#b5_0)"/></g><g clip-path="url(#tin)"><polyline points="-47,-82.6 -46.4,-73.2 -43.9,-64.2 -39.6,-55.7 -33.8,-48.4 -26.6,-42.3 -18.4,-37.7 -9.4,-34.9 -0,-34 9.4,-34.9 18.4,-37.7 26.6,-42.3 33.8,-48.4 39.6,-55.7 43.9,-64.2 46.4,-73.2 47,-82.6" fill="none" stroke="#1a1a1a" stroke-width="10" stroke-linecap="round" stroke-linejoin="round" filter="url(#b3_5)"/></g><g clip-path="url(#tin)"><ellipse cx="0" cy="-82" rx="31" ry="32" fill="#8c8c8c" filter="url(#b4_0)"/></g><g clip-path="url(#tin)"><ellipse cx="0" cy="-82" rx="25" ry="26" fill="#cccccc" filter="url(#b3_0)"/></g><g clip-path="url(#tin)"><ellipse cx="0" cy="-82" rx="20.5" ry="21" fill="#ffffff" filter="url(#b2_5)"/></g></g><rect x="9.25" y="-62" width="7.5" height="19" fill="#2a60b0" stroke="#0a2040" stroke-width="2.8" opacity="0.8" filter="url(#b1_0)"/></svg></g><g filter="url(#soft2)"><svg x="62" y="25.5" width="181" height="180" viewBox="-150 -200 300 300" preserveAspectRatio="none"><polygon points="-114,1 0,-134.5 114,1" fill="none" stroke="#06101c" stroke-width="2.7" stroke-linejoin="miter" opacity=".92"/></svg><svg x="323.8" y="25.5" width="181" height="180" viewBox="-150 -200 300 300" preserveAspectRatio="none"><polygon points="-114,1 0,-134.5 114,1" fill="none" stroke="#06101c" stroke-width="2.7" stroke-linejoin="miter" opacity=".92"/></svg><svg x="585.5" y="25.5" width="181" height="180" viewBox="-150 -200 300 300" preserveAspectRatio="none"><polygon points="-114,1 0,-134.5 114,1" fill="none" stroke="#06101c" stroke-width="2.7" stroke-linejoin="miter" opacity=".92"/></svg><svg x="847.2" y="25.5" width="181" height="180" viewBox="-150 -200 300 300" preserveAspectRatio="none"><polygon points="-114,1 0,-134.5 114,1" fill="none" stroke="#06101c" stroke-width="2.7" stroke-linejoin="miter" opacity=".92"/></svg><svg x="62" y="293.7" width="181" height="180" viewBox="-150 -200 300 300" preserveAspectRatio="none"><polygon points="-114,1 0,-134.5 114,1" fill="none" stroke="#0c1450" stroke-width="2.7" stroke-linejoin="miter" opacity=".92"/></svg><svg x="323.8" y="293.7" width="181" height="180" viewBox="-150 -200 300 300" preserveAspectRatio="none"><polygon points="-114,1 0,-134.5 114,1" fill="none" stroke="#0c1450" stroke-width="2.7" stroke-linejoin="miter" opacity=".92"/></svg><svg x="585.5" y="293.7" width="181" height="180" viewBox="-150 -200 300 300" preserveAspectRatio="none"><polygon points="-114,1 0,-134.5 114,1" fill="none" stroke="#0c1450" stroke-width="2.7" stroke-linejoin="miter" opacity=".92"/></svg><svg x="847.2" y="293.7" width="181" height="180" viewBox="-150 -200 300 300" preserveAspectRatio="none"><polygon points="-114,1 0,-134.5 114,1" fill="none" stroke="#0c1450" stroke-width="2.7" stroke-linejoin="miter" opacity=".92"/></svg></g><g class="txt"><rect x="62" y="25.5" width="181" height="180" fill="none" stroke="#102030" stroke-opacity=".55" stroke-width="1"/><path d="M62 25.5h-3.5" stroke="#222" stroke-width="1"/><text class="tk" x="57" y="30.2" text-anchor="end">200</text><path d="M62 85.5h-3.5" stroke="#222" stroke-width="1"/><text class="tk" x="57" y="90.2" text-anchor="end">100</text><path d="M62 145.5h-3.5" stroke="#222" stroke-width="1"/><text class="tk" x="57" y="150.2" text-anchor="end">0</text><path d="M62 205.5h-3.5" stroke="#222" stroke-width="1"/><text class="tk" x="57" y="210.2" text-anchor="end">−100</text><path d="M80.1 205.5v3.5" stroke="#222" stroke-width="1"/><text class="tk" x="80.1" y="222.5" text-anchor="middle">−120</text><path d="M116.3 205.5v3.5" stroke="#222" stroke-width="1"/><text class="tk" x="116.3" y="222.5" text-anchor="middle">−60</text><path d="M152.5 205.5v3.5" stroke="#222" stroke-width="1"/><text class="tk" x="152.5" y="222.5" text-anchor="middle">0</text><path d="M188.7 205.5v3.5" stroke="#222" stroke-width="1"/><text class="tk" x="188.7" y="222.5" text-anchor="middle">60</text><path d="M224.9 205.5v3.5" stroke="#222" stroke-width="1"/><text class="tk" x="224.9" y="222.5" text-anchor="middle">120</text><text class="tt" x="156.5" y="22.2" text-anchor="middle"><tspan class="it">λ</tspan> = 330<tspan class="it">m</tspan></text><text class="xl" x="152.5" y="243" text-anchor="middle"><tspan class="it">x</tspan>, m</text><text class="pl" x="217.2" y="53.7" text-anchor="middle">(a)</text><rect x="323.8" y="25.5" width="181" height="180" fill="none" stroke="#102030" stroke-opacity=".55" stroke-width="1"/><path d="M323.8 25.5h-3.5" stroke="#222" stroke-width="1"/><text class="tk" x="318.8" y="30.2" text-anchor="end">200</text><path d="M323.8 85.5h-3.5" stroke="#222" stroke-width="1"/><text class="tk" x="318.8" y="90.2" text-anchor="end">100</text><path d="M323.8 145.5h-3.5" stroke="#222" stroke-width="1"/><text class="tk" x="318.8" y="150.2" text-anchor="end">0</text><path d="M323.8 205.5h-3.5" stroke="#222" stroke-width="1"/><text class="tk" x="318.8" y="210.2" text-anchor="end">−100</text><path d="M341.9 205.5v3.5" stroke="#222" stroke-width="1"/><text class="tk" x="341.9" y="222.5" text-anchor="middle">−120</text><path d="M378.1 205.5v3.5" stroke="#222" stroke-width="1"/><text class="tk" x="378.1" y="222.5" text-anchor="middle">−60</text><path d="M414.3 205.5v3.5" stroke="#222" stroke-width="1"/><text class="tk" x="414.3" y="222.5" text-anchor="middle">0</text><path d="M450.5 205.5v3.5" stroke="#222" stroke-width="1"/><text class="tk" x="450.5" y="222.5" text-anchor="middle">60</text><path d="M486.7 205.5v3.5" stroke="#222" stroke-width="1"/><text class="tk" x="486.7" y="222.5" text-anchor="middle">120</text><text class="tt" x="418.3" y="22.2" text-anchor="middle"><tspan class="it">λ</tspan> = 300<tspan class="it">m</tspan></text><text class="xl" x="414.3" y="243" text-anchor="middle"><tspan class="it">x</tspan>, m</text><text class="pl" x="479" y="53.7" text-anchor="middle">(b)</text><rect x="585.5" y="25.5" width="181" height="180" fill="none" stroke="#102030" stroke-opacity=".55" stroke-width="1"/><path d="M585.5 25.5h-3.5" stroke="#222" stroke-width="1"/><text class="tk" x="580.5" y="30.2" text-anchor="end">200</text><path d="M585.5 85.5h-3.5" stroke="#222" stroke-width="1"/><text class="tk" x="580.5" y="90.2" text-anchor="end">100</text><path d="M585.5 145.5h-3.5" stroke="#222" stroke-width="1"/><text class="tk" x="580.5" y="150.2" text-anchor="end">0</text><path d="M585.5 205.5h-3.5" stroke="#222" stroke-width="1"/><text class="tk" x="580.5" y="210.2" text-anchor="end">−100</text><path d="M603.6 205.5v3.5" stroke="#222" stroke-width="1"/><text class="tk" x="603.6" y="222.5" text-anchor="middle">−120</text><path d="M639.8 205.5v3.5" stroke="#222" stroke-width="1"/><text class="tk" x="639.8" y="222.5" text-anchor="middle">−60</text><path d="M676 205.5v3.5" stroke="#222" stroke-width="1"/><text class="tk" x="676" y="222.5" text-anchor="middle">0</text><path d="M712.2 205.5v3.5" stroke="#222" stroke-width="1"/><text class="tk" x="712.2" y="222.5" text-anchor="middle">60</text><path d="M748.4 205.5v3.5" stroke="#222" stroke-width="1"/><text class="tk" x="748.4" y="222.5" text-anchor="middle">120</text><text class="tt" x="680" y="22.2" text-anchor="middle"><tspan class="it">λ</tspan> = 260<tspan class="it">m</tspan></text><text class="xl" x="676" y="243" text-anchor="middle"><tspan class="it">x</tspan>, m</text><text class="pl" x="740.7" y="53.7" text-anchor="middle">(c)</text><rect x="847.2" y="25.5" width="181" height="180" fill="none" stroke="#102030" stroke-opacity=".55" stroke-width="1"/><path d="M847.2 25.5h-3.5" stroke="#222" stroke-width="1"/><text class="tk" x="842.2" y="30.2" text-anchor="end">200</text><path d="M847.2 85.5h-3.5" stroke="#222" stroke-width="1"/><text class="tk" x="842.2" y="90.2" text-anchor="end">100</text><path d="M847.2 145.5h-3.5" stroke="#222" stroke-width="1"/><text class="tk" x="842.2" y="150.2" text-anchor="end">0</text><path d="M847.2 205.5h-3.5" stroke="#222" stroke-width="1"/><text class="tk" x="842.2" y="210.2" text-anchor="end">−100</text><path d="M865.3 205.5v3.5" stroke="#222" stroke-width="1"/><text class="tk" x="865.3" y="222.5" text-anchor="middle">−120</text><path d="M901.5 205.5v3.5" stroke="#222" stroke-width="1"/><text class="tk" x="901.5" y="222.5" text-anchor="middle">−60</text><path d="M937.7 205.5v3.5" stroke="#222" stroke-width="1"/><text class="tk" x="937.7" y="222.5" text-anchor="middle">0</text><path d="M973.9 205.5v3.5" stroke="#222" stroke-width="1"/><text class="tk" x="973.9" y="222.5" text-anchor="middle">60</text><path d="M1010.1 205.5v3.5" stroke="#222" stroke-width="1"/><text class="tk" x="1010.1" y="222.5" text-anchor="middle">120</text><text class="tt" x="941.7" y="22.2" text-anchor="middle"><tspan class="it">λ</tspan> = 230<tspan class="it">m</tspan></text><text class="xl" x="937.7" y="243" text-anchor="middle"><tspan class="it">x</tspan>, m</text><text class="pl" x="1002.4" y="53.7" text-anchor="middle">(d)</text><rect x="62" y="293.7" width="181" height="180" fill="none" stroke="#102030" stroke-opacity=".55" stroke-width="1"/><path d="M62 293.7h-3.5" stroke="#222" stroke-width="1"/><text class="tk" x="57" y="298.4" text-anchor="end">200</text><path d="M62 353.7h-3.5" stroke="#222" stroke-width="1"/><text class="tk" x="57" y="358.4" text-anchor="end">100</text><path d="M62 413.7h-3.5" stroke="#222" stroke-width="1"/><text class="tk" x="57" y="418.4" text-anchor="end">0</text><path d="M62 473.7h-3.5" stroke="#222" stroke-width="1"/><text class="tk" x="57" y="478.4" text-anchor="end">−100</text><path d="M80.1 473.7v3.5" stroke="#222" stroke-width="1"/><text class="tk" x="80.1" y="490.7" text-anchor="middle">−120</text><path d="M116.3 473.7v3.5" stroke="#222" stroke-width="1"/><text class="tk" x="116.3" y="490.7" text-anchor="middle">−60</text><path d="M152.5 473.7v3.5" stroke="#222" stroke-width="1"/><text class="tk" x="152.5" y="490.7" text-anchor="middle">0</text><path d="M188.7 473.7v3.5" stroke="#222" stroke-width="1"/><text class="tk" x="188.7" y="490.7" text-anchor="middle">60</text><path d="M224.9 473.7v3.5" stroke="#222" stroke-width="1"/><text class="tk" x="224.9" y="490.7" text-anchor="middle">120</text><text class="tt" x="156.5" y="290.4" text-anchor="middle"><tspan class="it">λ</tspan> = 330<tspan class="it">m</tspan></text><text class="xl" x="152.5" y="511.2" text-anchor="middle"><tspan class="it">x</tspan>, m</text><text class="pl" x="217.2" y="321.9" text-anchor="middle">(e)</text><rect x="323.8" y="293.7" width="181" height="180" fill="none" stroke="#102030" stroke-opacity=".55" stroke-width="1"/><path d="M323.8 293.7h-3.5" stroke="#222" stroke-width="1"/><text class="tk" x="318.8" y="298.4" text-anchor="end">200</text><path d="M323.8 353.7h-3.5" stroke="#222" stroke-width="1"/><text class="tk" x="318.8" y="358.4" text-anchor="end">100</text><path d="M323.8 413.7h-3.5" stroke="#222" stroke-width="1"/><text class="tk" x="318.8" y="418.4" text-anchor="end">0</text><path d="M323.8 473.7h-3.5" stroke="#222" stroke-width="1"/><text class="tk" x="318.8" y="478.4" text-anchor="end">−100</text><path d="M341.9 473.7v3.5" stroke="#222" stroke-width="1"/><text class="tk" x="341.9" y="490.7" text-anchor="middle">−120</text><path d="M378.1 473.7v3.5" stroke="#222" stroke-width="1"/><text class="tk" x="378.1" y="490.7" text-anchor="middle">−60</text><path d="M414.3 473.7v3.5" stroke="#222" stroke-width="1"/><text class="tk" x="414.3" y="490.7" text-anchor="middle">0</text><path d="M450.5 473.7v3.5" stroke="#222" stroke-width="1"/><text class="tk" x="450.5" y="490.7" text-anchor="middle">60</text><path d="M486.7 473.7v3.5" stroke="#222" stroke-width="1"/><text class="tk" x="486.7" y="490.7" text-anchor="middle">120</text><text class="tt" x="418.3" y="290.4" text-anchor="middle"><tspan class="it">λ</tspan> = 300<tspan class="it">m</tspan></text><text class="xl" x="414.3" y="511.2" text-anchor="middle"><tspan class="it">x</tspan>, m</text><text class="pl" x="479" y="321.9" text-anchor="middle">(f)</text><rect x="585.5" y="293.7" width="181" height="180" fill="none" stroke="#102030" stroke-opacity=".55" stroke-width="1"/><path d="M585.5 293.7h-3.5" stroke="#222" stroke-width="1"/><text class="tk" x="580.5" y="298.4" text-anchor="end">200</text><path d="M585.5 353.7h-3.5" stroke="#222" stroke-width="1"/><text class="tk" x="580.5" y="358.4" text-anchor="end">100</text><path d="M585.5 413.7h-3.5" stroke="#222" stroke-width="1"/><text class="tk" x="580.5" y="418.4" text-anchor="end">0</text><path d="M585.5 473.7h-3.5" stroke="#222" stroke-width="1"/><text class="tk" x="580.5" y="478.4" text-anchor="end">−100</text><path d="M603.6 473.7v3.5" stroke="#222" stroke-width="1"/><text class="tk" x="603.6" y="490.7" text-anchor="middle">−120</text><path d="M639.8 473.7v3.5" stroke="#222" stroke-width="1"/><text class="tk" x="639.8" y="490.7" text-anchor="middle">−60</text><path d="M676 473.7v3.5" stroke="#222" stroke-width="1"/><text class="tk" x="676" y="490.7" text-anchor="middle">0</text><path d="M712.2 473.7v3.5" stroke="#222" stroke-width="1"/><text class="tk" x="712.2" y="490.7" text-anchor="middle">60</text><path d="M748.4 473.7v3.5" stroke="#222" stroke-width="1"/><text class="tk" x="748.4" y="490.7" text-anchor="middle">120</text><text class="tt" x="680" y="290.4" text-anchor="middle"><tspan class="it">λ</tspan> = 260<tspan class="it">m</tspan></text><text class="xl" x="676" y="511.2" text-anchor="middle"><tspan class="it">x</tspan>, m</text><text class="pl" x="740.7" y="321.9" text-anchor="middle">(g)</text><rect x="847.2" y="293.7" width="181" height="180" fill="none" stroke="#102030" stroke-opacity=".55" stroke-width="1"/><path d="M847.2 293.7h-3.5" stroke="#222" stroke-width="1"/><text class="tk" x="842.2" y="298.4" text-anchor="end">200</text><path d="M847.2 353.7h-3.5" stroke="#222" stroke-width="1"/><text class="tk" x="842.2" y="358.4" text-anchor="end">100</text><path d="M847.2 413.7h-3.5" stroke="#222" stroke-width="1"/><text class="tk" x="842.2" y="418.4" text-anchor="end">0</text><path d="M847.2 473.7h-3.5" stroke="#222" stroke-width="1"/><text class="tk" x="842.2" y="478.4" text-anchor="end">−100</text><path d="M865.3 473.7v3.5" stroke="#222" stroke-width="1"/><text class="tk" x="865.3" y="490.7" text-anchor="middle">−120</text><path d="M901.5 473.7v3.5" stroke="#222" stroke-width="1"/><text class="tk" x="901.5" y="490.7" text-anchor="middle">−60</text><path d="M937.7 473.7v3.5" stroke="#222" stroke-width="1"/><text class="tk" x="937.7" y="490.7" text-anchor="middle">0</text><path d="M973.9 473.7v3.5" stroke="#222" stroke-width="1"/><text class="tk" x="973.9" y="490.7" text-anchor="middle">60</text><path d="M1010.1 473.7v3.5" stroke="#222" stroke-width="1"/><text class="tk" x="1010.1" y="490.7" text-anchor="middle">120</text><text class="tt" x="941.7" y="290.4" text-anchor="middle"><tspan class="it">λ</tspan> = 230<tspan class="it">m</tspan></text><text class="xl" x="937.7" y="511.2" text-anchor="middle"><tspan class="it">x</tspan>, m</text><text class="pl" x="1002.4" y="321.9" text-anchor="middle">(h)</text><text class="yl" transform="translate(10.5 116.5) rotate(-90)" text-anchor="middle"><tspan class="it">z</tspan>, m</text><text class="yl" transform="translate(10.5 384.7) rotate(-90)" text-anchor="middle"><tspan class="it">z</tspan>, m</text><rect x="1070" y="22.6" width="30" height="184.8" fill="url(#cbjet)" stroke="#102030" stroke-opacity=".5" stroke-width=".8"/><path d="M1100 22.6h3.5" stroke="#222" stroke-width="1"/><text class="tk" x="1105" y="27.3">3</text><path d="M1100 84.2h3.5" stroke="#222" stroke-width="1"/><text class="tk" x="1105" y="88.9">2</text><path d="M1100 145.8h3.5" stroke="#222" stroke-width="1"/><text class="tk" x="1105" y="150.5">1</text><path d="M1100 207.4h3.5" stroke="#222" stroke-width="1"/><text class="tk" x="1105" y="212.1">0</text><text class="ct" x="1050.5" y="-0.2">|<tspan class="it">E</tspan>|, <tspan class="it">V</tspan>/<tspan class="it">m</tspan></text><rect x="1070" y="291" width="30" height="184.8" fill="url(#cbrainbow)" stroke="#102030" stroke-opacity=".5" stroke-width=".8"/><path d="M1100 291h3.5" stroke="#222" stroke-width="1"/><text class="tk" x="1105" y="295.7">15</text><path d="M1100 352.6h3.5" stroke="#222" stroke-width="1"/><text class="tk" x="1105" y="357.3">10</text><path d="M1100 414.2h3.5" stroke="#222" stroke-width="1"/><text class="tk" x="1105" y="418.9">5</text><path d="M1100 475.8h3.5" stroke="#222" stroke-width="1"/><text class="tk" x="1105" y="480.5">0</text><text class="ct" x="1044" y="268.2">|<tspan class="it">H</tspan>|, <tspan class="it">mA</tspan>/<tspan class="it">m</tspan></text></g></svg></body></html>
